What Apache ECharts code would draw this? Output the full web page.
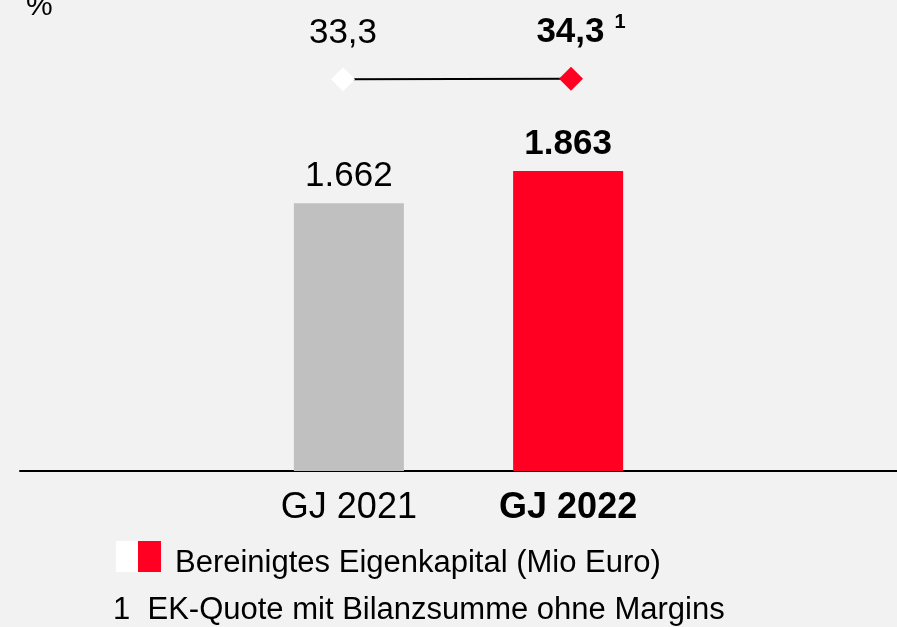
<!DOCTYPE html>
<html>
<head>
<meta charset="utf-8">
<script src="https://cdn.jsdelivr.net/npm/echarts@6/dist/echarts.min.js"></script>
<style>
  html, body { margin: 0; padding: 0; background: #f2f2f2; }
  #chart { width: 897px; height: 627px; }
</style>
</head>
<body>
<div id="chart"></div>
<script>
// categories of the bar axis (outer blanks give the empty space left and right)
const categories = ['', 'GJ 2021', 'GJ 2022', ' '];
const years = ['GJ 2021', 'GJ 2022'];
const equity = [1662, 1863];      // Bereinigtes Eigenkapital (Mio Euro)
const quote = [33.3, 34.3];       // EK-Quote in %
const barColors = ['#c0c0c0', '#ff0022'];
const quoteColors = ['#ffffff', '#ff0022'];

const font = "'Liberation Sans', Arial, Helvetica, sans-serif";
const fmtThousand = v => String(v).replace(/\B(?=(\d{3})+(?!\d))/g, '.');
const fmtDec = v => v.toFixed(1).replace('.', ',');

let barData = years.map((y, i) => ({
  value: [y, equity[i]],
  itemStyle: { color: barColors[i] },
  label: { fontWeight: i === 1 ? 'bold' : 'normal' }
}));

let quoteData = years.map((y, i) => {
  let item = {
    value: [y, quote[i]],
    itemStyle: { color: quoteColors[i] }
  };
  if (i === 1) {
    item.label = {
      formatter: '{a|' + fmtDec(quote[i]) + '}{s|1}',
      offset: [10, 0]
    };
  }
  return item;
});

let chart = echarts.init(document.getElementById('chart'));
chart.setOption({
  animation: false,
  backgroundColor: '#f2f2f2',
  textStyle: { fontFamily: font, color: '#000' },
  grid: [
    { left: 20, right: 0, top: 20, bottom: 156 },
    { left: 229, right: 212, top: 78.8, height: 0.4 }
  ],
  xAxis: [
    {
      type: 'category',
      gridIndex: 0,
      data: categories.map((c, i) => i === 2
        ? { value: c, textStyle: { fontWeight: 'bold' } }
        : c),
      axisLine: { show: true, lineStyle: { color: '#000', width: 2 } },
      axisTick: { show: false },
      splitLine: { show: false },
      axisLabel: {
        fontSize: 36, lineHeight: 40, color: '#000', margin: 17,
        fontFamily: font, interval: 0
      }
    },
    {
      type: 'category',
      gridIndex: 1,
      data: years,
      show: false
    }
  ],
  yAxis: [
    { type: 'value', gridIndex: 0, min: 0, max: 2800, show: false },
    { type: 'value', gridIndex: 1, min: 33.3, max: 34.3, show: false }
  ],
  legend: {
    left: 116,
    top: 541,
    padding: 0,
    itemWidth: 45,
    itemHeight: 31,
    selectedMode: false,
    data: [{
      name: 'Bereinigtes Eigenkapital (Mio Euro)',
      icon: 'rect',
      itemStyle: {
        color: new echarts.graphic.LinearGradient(0, 0, 1, 0, [
          { offset: 0, color: '#ffffff' },
          { offset: 0.5, color: '#ffffff' },
          { offset: 0.5, color: '#ff0022' },
          { offset: 1, color: '#ff0022' }
        ]),
        borderWidth: 0
      }
    }],
    formatter: name => '{t|' + name + '}',
    textStyle: {
      fontSize: 31, color: '#000', fontFamily: font,
      rich: {
        t: { fontSize: 31, color: '#000', fontFamily: font, padding: [14, 0, 0, 9] }
      }
    }
  },
  graphic: [
    {
      type: 'text', left: 26, top: -8,
      style: { text: '%', fontSize: 30, fill: '#000', fontFamily: font }
    },
    {
      type: 'text', left: 113, top: 595,
      style: {
        text: '1  EK-Quote mit Bilanzsumme ohne Margins',
        fontSize: 31, fill: '#000', fontFamily: font
      }
    }
  ],
  series: [
    {
      name: 'Bereinigtes Eigenkapital (Mio Euro)',
      type: 'bar',
      xAxisIndex: 0,
      yAxisIndex: 0,
      barWidth: 110,
      data: barData,
      label: {
        show: true,
        position: 'top',
        distance: 7,
        fontSize: 35,
        lineHeight: 40,
        color: '#000',
        fontFamily: font,
        formatter: p => fmtThousand(p.value[1])
      }
    },
    {
      name: 'EK-Quote',
      type: 'line',
      xAxisIndex: 1,
      yAxisIndex: 1,
      clip: false,
      symbol: 'diamond',
      symbolSize: 24,
      lineStyle: { color: '#000', width: 2 },
      data: quoteData,
      label: {
        show: true,
        position: 'top',
        distance: 14,
        fontSize: 35,
        lineHeight: 40,
        color: '#000',
        fontFamily: font,
        formatter: p => fmtDec(p.value[1]),
        rich: {
          a: { fontSize: 35, lineHeight: 40, fontWeight: 'bold', color: '#000', fontFamily: font },
          s: { fontSize: 20, lineHeight: 20, fontWeight: 'bold', color: '#000', fontFamily: font,
               verticalAlign: 'top', padding: [0, 0, 0, 10] }
        }
      }
    }
  ]
});
</script>
</body>
</html>
